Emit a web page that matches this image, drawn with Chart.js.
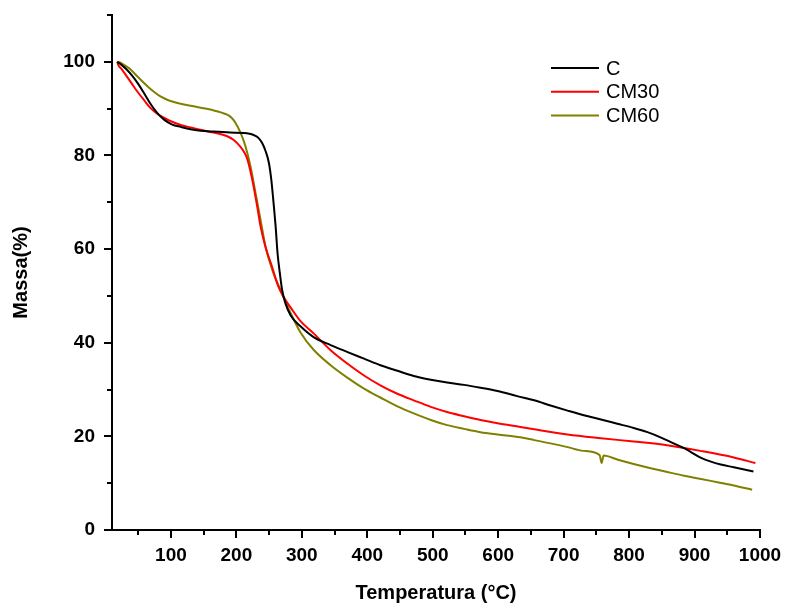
<!DOCTYPE html>
<html>
<head>
<meta charset="utf-8">
<script src="https://cdn.jsdelivr.net/npm/chart.js@4"></script>
<style>
	html, body { margin: 0; padding: 0; background: #fff; }
	#wrap { width: 786px; height: 608px; }
</style>
</head>
<body>
<div id="wrap"><canvas id="tgaChart" width="786" height="608"></canvas></div>
<script>
// Curvas TGA - massa (%) x temperatura (°C)
var seriesNames = ['C', 'CM30', 'CM60'];
var seriesColors = ['#000000', '#ff0000', '#808000'];

var cTemp = [18, 24, 32, 41, 50, 59, 69, 79, 90, 102, 115, 130, 145, 165, 190, 212, 222, 229, 234, 239.6, 244.7, 249.7, 253.4, 256.4, 260, 263, 266.5, 270, 275, 283, 298, 318, 344, 370, 395, 420, 446, 471, 497, 522, 548, 573, 599, 629, 655, 680, 706, 731, 757, 782, 807, 828, 848, 868, 884, 895, 910, 925, 940, 960, 990];
var cMass = [100, 99.4, 98.4, 97.0, 95.3, 93.3, 91.0, 89.1, 87.6, 86.6, 86.1, 85.6, 85.3, 85.1, 84.9, 84.8, 84.6, 84.2, 83.7, 82.6, 80.9, 78.4, 74.8, 70.5, 64.8, 59, 54.8, 51.2, 48.4, 45.8, 43.5, 41.2, 39.5, 38, 36.6, 35.2, 34, 32.9, 32.1, 31.5, 31, 30.4, 29.7, 28.6, 27.7, 26.6, 25.5, 24.5, 23.6, 22.7, 21.8, 20.9, 19.8, 18.5, 17.5, 16.6, 15.4, 14.6, 14.0, 13.4, 12.5];

var cm30Temp = [18, 20, 25, 31, 40, 49, 59, 69, 80, 90, 100, 115, 130, 145, 165, 186, 196, 206, 212, 217, 224, 232, 237, 245, 255, 263, 272, 283, 298, 318, 344, 370, 395, 420, 446, 471, 497, 522, 548, 573, 599, 634, 655, 706, 757, 807, 858, 909, 960, 993];
var cm30Mass = [100, 99.2, 98.4, 97.2, 95.4, 93.6, 91.8, 90.1, 88.8, 88.0, 87.3, 86.5, 86.0, 85.5, 84.9, 84.1, 83.3, 81.9, 80.7, 79.1, 75.0, 69, 64.8, 60.2, 56, 52.4, 49.8, 47.5, 44.6, 42, 38.4, 35.5, 33, 30.9, 29.1, 27.7, 26.3, 25.2, 24.3, 23.5, 22.8, 22.0, 21.5, 20.4, 19.6, 18.9, 18.1, 16.9, 15.5, 14.3];

var cm60Temp = [18, 23, 30, 38, 50, 64, 75, 84, 96, 110, 130, 160, 186, 193, 199, 206.5, 214, 221.7, 229.4, 237, 244.7, 255, 267.6, 283, 298, 318, 344, 370, 395, 420, 446, 471, 497, 522, 548, 573, 599, 634, 655, 680, 706, 730, 755, 758, 761, 783, 807, 833, 858, 884, 910, 935, 960, 988];
var cm60Mass = [100, 99.8, 99.2, 98.4, 96.7, 94.8, 93.5, 92.6, 91.8, 91.2, 90.6, 89.8, 88.7, 88.0, 86.9, 84.8, 81.9, 77.6, 71.9, 66.2, 60.5, 55.5, 51.2, 46.3, 42.2, 38.5, 35.2, 32.5, 30.2, 28.3, 26.4, 24.9, 23.5, 22.4, 21.6, 20.9, 20.4, 19.8, 19.2, 18.5, 17.7, 16.9, 16.0, 14.3, 15.9, 15.0, 14.1, 13.2, 12.4, 11.6, 10.9, 10.2, 9.5, 8.6];

var xMajorTicks = [100, 200, 300, 400, 500, 600, 700, 800, 900, 1000];
var xMinorTicks = [50, 150, 250, 350, 450, 550, 650, 750, 850, 950];
var yMajorTicks = [0, 20, 40, 60, 80, 100];
var yMinorTicks = [10, 30, 50, 70, 90, 110];

var fontFamily = '"Liberation Sans", Arial, sans-serif';

function toPoints(temps, masses) {
	var pts = new Array();
	temps.forEach(function(t, i) {
		pts.push({ x: t, y: masses[i] });
	});
	return pts;
}

function getChartData() {
	var allTemps = [cTemp, cm30Temp, cm60Temp];
	var allMasses = [cMass, cm30Mass, cm60Mass];
	var _datasets = new Array();

	seriesNames.forEach(function(name, i) {
		_datasets.push({
			label: name,
			data: toPoints(allTemps[i], allMasses[i]),
			borderColor: seriesColors[i],
			backgroundColor: seriesColors[i],
			borderWidth: 2,
			pointRadius: 0,
			fill: false,
			cubicInterpolationMode: 'monotone'
		});
	});

	return { datasets: _datasets };
}

// ticks menores + legenda
var extrasPlugin = {
	id: 'extras',
	afterDraw: function(chart) {
		var ctx = chart.ctx;
		var area = chart.chartArea;
		var xs = chart.scales.x;
		var ys = chart.scales.y;

		ctx.save();
		ctx.strokeStyle = '#000';
		ctx.lineWidth = 2;
		xMinorTicks.forEach(function(v) {
			var px = Math.round(xs.getPixelForValue(v));
			ctx.beginPath();
			ctx.moveTo(px, area.bottom);
			ctx.lineTo(px, area.bottom + 5);
			ctx.stroke();
		});
		yMinorTicks.forEach(function(v) {
			var py = Math.round(ys.getPixelForValue(v));
			ctx.beginPath();
			ctx.moveTo(area.left, py);
			ctx.lineTo(area.left - 5, py);
			ctx.stroke();
		});

		// legenda
		ctx.font = '20px ' + fontFamily;
		ctx.textBaseline = 'middle';
		ctx.textAlign = 'left';
		chart.data.datasets.forEach(function(ds, i) {
			var y = 68 + i * 23.7;
			ctx.strokeStyle = ds.borderColor;
			ctx.lineWidth = 2;
			ctx.beginPath();
			ctx.moveTo(551, y);
			ctx.lineTo(599, y);
			ctx.stroke();
			ctx.fillStyle = '#000';
			ctx.fillText(ds.label, 606, y + 1);
		});
		ctx.restore();
	}
};

function getChartOption() {
	var options = {
		type: 'line',
		data: getChartData(),
		plugins: [extrasPlugin],
		options: {
			responsive: false,
			animation: false,
			layout: {
				padding: { left: 0, top: 15, right: 26, bottom: 0 }
			},
			plugins: {
				legend: { display: false },
				tooltip: { enabled: false }
			},
			scales: {
				x: {
					type: 'linear',
					min: 10,
					max: 1000,
					afterBuildTicks: function(scale) {
						scale.ticks = xMajorTicks.map(function(v) { return { value: v }; });
					},
					afterFit: function(scale) {
						scale.height = 78;
						scale.paddingLeft = 0;
						scale.paddingRight = 0;
					},
					border: { display: true, color: '#000', width: 2 },
					grid: { display: true, drawOnChartArea: false, tickLength: 8, color: '#000', lineWidth: 2 },
					ticks: {
						color: '#000',
						padding: 6,
						maxRotation: 0,
						autoSkip: false,
						callback: function(value) { return String(value); },
						font: { family: fontFamily, size: 19, weight: 'bold' }
					},
					title: {
						display: true,
						text: 'Temperatura (°C)',
						color: '#000',
						padding: { top: 0, bottom: 3 },
						font: { family: fontFamily, size: 20, weight: 'bold' }
					}
				},
				y: {
					min: 0,
					max: 110,
					afterBuildTicks: function(scale) {
						scale.ticks = yMajorTicks.map(function(v) { return { value: v }; });
					},
					afterFit: function(scale) {
						scale.width = 112;
						scale.paddingTop = 0;
						scale.paddingBottom = 0;
					},
					border: { display: true, color: '#000', width: 2 },
					grid: { display: true, drawOnChartArea: false, tickLength: 8, color: '#000', lineWidth: 2 },
					ticks: {
						color: '#000',
						padding: 9,
						autoSkip: false,
						font: { family: fontFamily, size: 19, weight: 'bold' }
					},
					title: {
						display: true,
						text: 'Massa(%)',
						color: '#000',
						padding: { top: 9, bottom: 0 },
						font: { family: fontFamily, size: 20, weight: 'bold' }
					}
				}
			}
		}
	};

	return options;
}

var _tgaChart = new Chart(document.getElementById('tgaChart'), getChartOption());
</script>
</body>
</html>
